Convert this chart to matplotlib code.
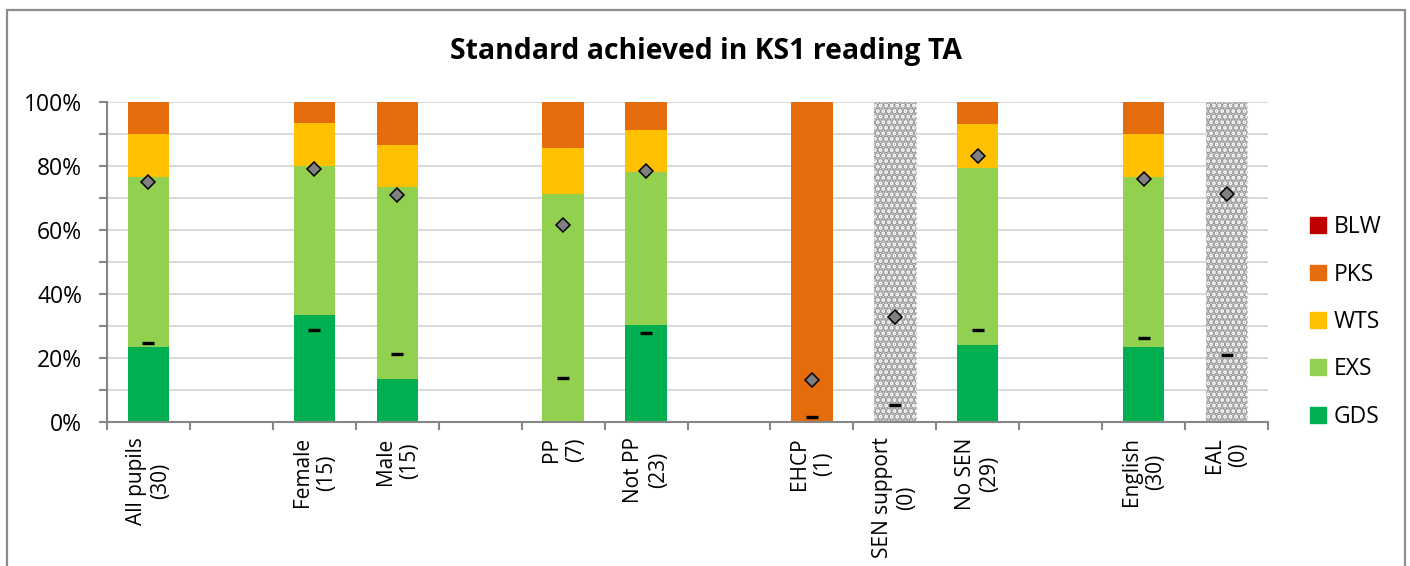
import numpy as np
import matplotlib
matplotlib.use("Agg")
import matplotlib.pyplot as plt
from matplotlib.patches import Rectangle, Patch
from matplotlib.ticker import MultipleLocator, FixedLocator, PercentFormatter

# slots along the x axis; "" are spacer slots between groups
categories = ["All pupils", "", "Female", "Male", "", "PP", "Not PP", "",
              "EHCP", "SEN support", "No SEN", "", "English", "EAL"]
counts = [30, None, 15, 15, None, 7, 23, None, 1, 0, 29, None, 30, 0]

# % of pupils at each standard
gds = [23.3, 0, 33.3, 13.3, 0, 0.0, 30.4, 0, 0, 0, 24.1, 0, 23.3, 0]
exs = [53.3, 0, 46.7, 60.0, 0, 71.4, 47.8, 0, 0, 0, 55.2, 0, 53.3, 0]
wts = [13.3, 0, 13.3, 13.3, 0, 14.3, 13.0, 0, 0, 0, 13.8, 0, 13.3, 0]
pks = [10.0, 0, 6.7, 13.3, 0, 14.3, 8.7, 0, 100, 0, 6.9, 0, 10.0, 0]
blw = [0, 0, 0, 0, 0, 0, 0, 0, 0, 0, 0, 0, 0, 0]

# national comparison markers
nat_exs = [75.0, np.nan, 79.2, 70.8, np.nan, 61.7, 78.3, np.nan, 13.0, 32.7, 83.1, np.nan, 76.0, 71.4]
nat_gds = [24.8, np.nan, 28.6, 21.4, np.nan, 13.6, 27.9, np.nan, 1.7, 5.2, 28.7, np.nan, 26.1, 20.8]

series = [("GDS", gds, "#00B050"), ("EXS", exs, "#92D050"), ("WTS", wts, "#FFC000"),
          ("PKS", pks, "#E46C0A"), ("BLW", blw, "#C00000")]

plt.rcParams.update({"font.family": ["Open Sans", "DejaVu Sans"], "font.size": 15,
                     "hatch.linewidth": 3.6})
AX = "#868686"; GRID = "#d9d9d9"

fig = plt.figure(figsize=(14.1, 5.66), dpi=100)
ax = fig.add_axes([107/1410, 1-422/566, (1268-107)/1410, (422-102)/566])

x = np.arange(len(categories))
w = 0.5
bottom = np.zeros(len(x))
for name, vals, col in series:
    v = np.array(vals, float)
    ax.bar(x, v, w, bottom=bottom, color=col, lw=0, zorder=2)
    bottom += v

# groups with no pupils get a stippled placeholder column
empty = [i for i, c in enumerate(counts) if c == 0]
ax.bar(x[empty], 100, w, color="white", hatch="...", edgecolor="#9a9a9a", lw=0, zorder=2)
ax.bar(x[empty], 100, w, fill=False, edgecolor="#c8c8c8", lw=0.9, ls=(0, (2, 2)), zorder=2)

ax.plot(x, nat_exs, ls="none", marker="D", ms=7.5, mfc="#808080", mec="black", mew=1.1, zorder=4)
ax.plot(x, nat_gds, ls="none", marker="_", ms=8, mec="black", mew=2.4, zorder=4)

ax.set_xlim(-0.5, len(x) - 0.5)
ax.set_ylim(0, 100)
ax.yaxis.set_major_locator(MultipleLocator(20))
ax.yaxis.set_minor_locator(MultipleLocator(10))
ax.yaxis.set_major_formatter(PercentFormatter(decimals=0))
ax.grid(axis="y", which="both", color=GRID, lw=1.4, zorder=0)
ax.set_axisbelow(True)

labels = [f"{c}\n({n})" if c else "" for c, n in zip(categories, counts)]
ax.set_xticks(x)
ax.set_xticklabels(labels, rotation=90, ha="center", va="top", multialignment="center")
ax.xaxis.set_minor_locator(FixedLocator(np.arange(-0.5, len(x), 1.0)))
ax.tick_params(axis="x", which="major", length=0, pad=11)
ax.tick_params(axis="x", which="minor", length=6, width=1.5, color=AX)
ax.tick_params(axis="y", which="both", length=6, width=1.5, color=AX, pad=12, labelsize=16.5)
for s in ("top", "right"):
    ax.spines[s].set_visible(False)
for s in ("left", "bottom"):
    ax.spines[s].set_color(AX); ax.spines[s].set_linewidth(1.5)

handles = [Patch(color=col, label=name) for name, _, col in series[::-1]]
fig.legend(handles=handles, loc="center left", bbox_to_anchor=(1310/1410, 1-322/566),
           frameon=False, borderpad=0, borderaxespad=0, handlelength=0.68, handleheight=0.68,
           handletextpad=0.35, labelspacing=1.02, fontsize=16.5)

fig.text(0.5007, 1-52/566, "Standard achieved in KS1 reading TA", ha="center", va="center",
         fontsize=20.4, fontweight="bold")
fig.add_artist(Rectangle((7/1410, -0.1), (1405-7)/1410, 1.1-10/566, transform=fig.transFigure,
                         fill=False, ec="#8c8c8c", lw=1.6))

fig.savefig("out.png", dpi=100, facecolor="white")
